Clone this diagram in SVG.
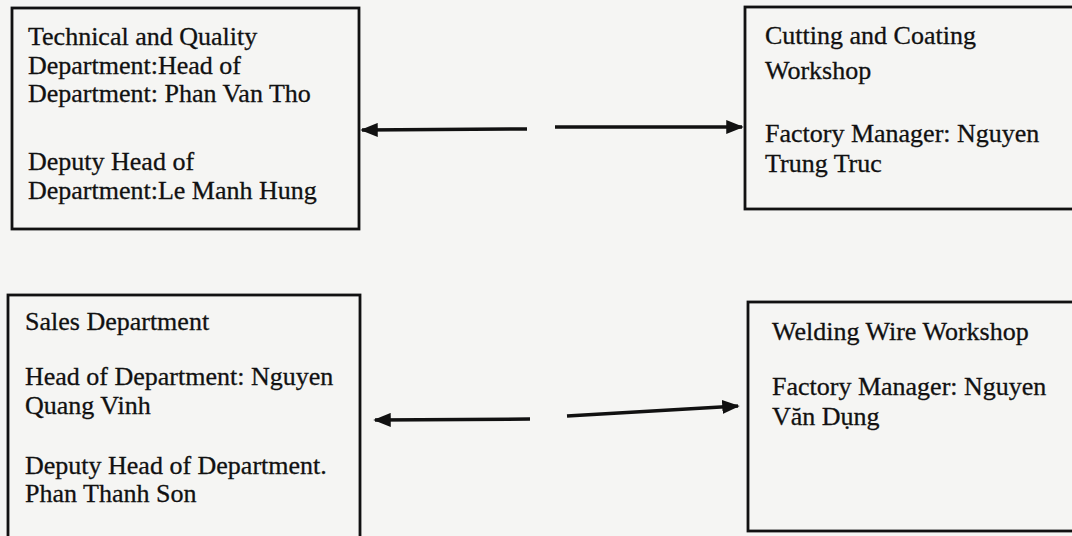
<svg xmlns="http://www.w3.org/2000/svg" width="1072" height="536" viewBox="0 0 1072 536">
<style>
.box{fill:none;stroke:#111;stroke-width:2.8}
.t{font-family:"Liberation Serif","Times New Roman",serif;font-size:26px;fill:#111;stroke:#111;stroke-width:0.3}
.c{stroke:#111;stroke-width:3.5;fill:none}
</style>
<defs>
<marker id="ah" markerWidth="5" markerHeight="4" refX="4.5" refY="2" orient="auto" markerUnits="strokeWidth">
<path d="M0,0 L5,2 L0,4 Z" fill="#111"/>
</marker>
</defs>
<rect width="1072" height="536" fill="#f5f5f3"/>
<g id="n-technical">
<rect class="box" x="12" y="8" width="347" height="221"/>
<text class="t" x="28" y="45">Technical and Quality</text>
<text class="t" x="28" y="74">Department:Head of</text>
<text class="t" x="28" y="102">Department: Phan Van Tho</text>
<text class="t" x="28" y="170">Deputy Head of</text>
<text class="t" x="28" y="199">Department:Le Manh Hung</text>
</g>
<g id="n-cutting">
<rect class="box" x="745" y="7" width="340" height="202"/>
<text class="t" x="765" y="44">Cutting and Coating</text>
<text class="t" x="765" y="79">Workshop</text>
<text class="t" x="765" y="142">Factory Manager: Nguyen</text>
<text class="t" x="765" y="172">Trung Truc</text>
</g>
<g id="n-sales">
<rect class="box" x="8" y="295" width="352" height="250"/>
<text class="t" x="25" y="330">Sales Department</text>
<text class="t" x="25" y="385">Head of Department: Nguyen</text>
<text class="t" x="25" y="414">Quang Vinh</text>
<text class="t" x="25" y="474">Deputy Head of Department.</text>
<text class="t" x="25" y="502">Phan Thanh Son</text>
</g>
<g id="n-welding">
<rect class="box" x="748" y="302" width="340" height="229"/>
<text class="t" x="772" y="340">Welding Wire Workshop</text>
<text class="t" x="772" y="395">Factory Manager: Nguyen</text>
<text class="t" x="772" y="425">Văn Dụng</text>
</g>
<g id="connectors">
<line class="c" x1="527" y1="129" x2="362" y2="130" marker-end="url(#ah)"/>
<line class="c" x1="555" y1="127" x2="742" y2="127" marker-end="url(#ah)"/>
<line class="c" x1="530" y1="419" x2="375" y2="420" marker-end="url(#ah)"/>
<line class="c" x1="567" y1="416" x2="738" y2="406" marker-end="url(#ah)"/>
</g>
</svg>
